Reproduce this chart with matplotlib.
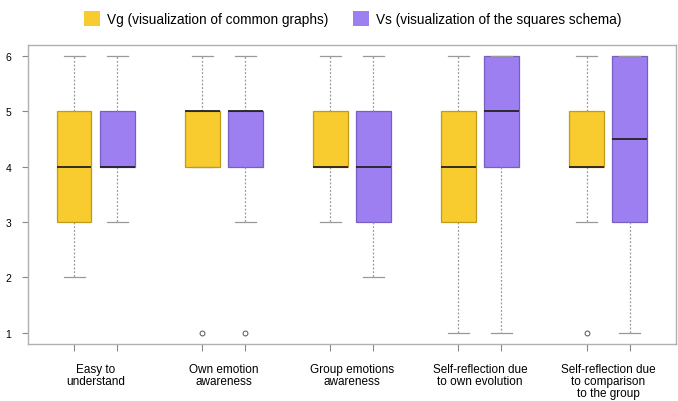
import matplotlib
import matplotlib.pyplot as plt
from matplotlib.patches import Patch

matplotlib.use("agg")
plt.rcParams["font.family"] = ["Liberation Sans", "DejaVu Sans"]

categories = ["Easy to\nunderstand", "Own emotion\nawareness", "Group emotions\nawareness",
              "Self-reflection due\nto own evolution",
              "Self-reflection due\nto comparison\nto the group"]

# five-number summaries per category (whisker low, q1, median, q3, whisker high)
vg_whislo = [2, 4, 3, 1, 3]
vg_q1 = [3, 4, 4, 3, 4]
vg_med = [4, 5, 4, 4, 4]
vg_q3 = [5, 5, 5, 5, 5]
vg_whishi = [6, 6, 6, 6, 6]
vg_fliers = [[], [1], [], [], [1]]

vs_whislo = [3, 3, 2, 1, 1]
vs_q1 = [4, 4, 3, 4, 3]
vs_med = [4, 5, 4, 5, 4.5]
vs_q3 = [5, 5, 5, 6, 6]
vs_whishi = [6, 6, 6, 6, 6]
vs_fliers = [[], [1], [], [], []]

vg_label = "Vg (visualization of common graphs)"
vs_label = "Vs (visualization of the squares schema)"
vg_color = "#F8CB2E"
vs_color = "#9D7FF2"
vg_edge = "#C09A18"
vs_edge = "#7460C0"


def make_stats(lo, q1, med, q3, hi, fliers):
    return [dict(whislo=a, q1=b, med=c, q3=d, whishi=e, fliers=f)
            for a, b, c, d, e, f in zip(lo, q1, med, q3, hi, fliers)]


fig = plt.figure(figsize=(6.78, 4.02), dpi=100)
ax = fig.add_axes([0.041, 0.142, 0.956, 0.744])

centers = list(range(1, len(categories) + 1))
offset = 0.168
width = 0.27

for stats, shift, face, edge in [
    (make_stats(vg_whislo, vg_q1, vg_med, vg_q3, vg_whishi, vg_fliers), -offset, vg_color, vg_edge),
    (make_stats(vs_whislo, vs_q1, vs_med, vs_q3, vs_whishi, vs_fliers), offset, vs_color, vs_edge),
]:
    ax.bxp(stats, positions=[c + shift for c in centers], widths=width,
           patch_artist=True, manage_ticks=False,
           boxprops=dict(facecolor=face, edgecolor=edge, linewidth=0.9),
           medianprops=dict(color="#222222", linewidth=1.3),
           whiskerprops=dict(color="#999999", linestyle=(0, (1.5, 1.5)), linewidth=0.9),
           capprops=dict(color="#999999", linewidth=0.9),
           capwidths=width * 0.6,
           flierprops=dict(marker="o", markersize=3.5, markerfacecolor="none",
                           markeredgecolor="#555555", markeredgewidth=0.7))

ax.set_xlim(0.47, 5.53)
ax.set_ylim(0.8, 6.2)
ax.set_yticks([1, 2, 3, 4, 5, 6])
ax.tick_params(axis="y", labelsize=7.5, length=4, color="#888888", pad=8)

tick_pos = []
for c in centers:
    tick_pos += [c - offset, c + offset]
ax.set_xticks(tick_pos)
ax.set_xticklabels([""] * len(tick_pos))
ax.tick_params(axis="x", length=5, color="#888888")
for c, name in zip(centers, categories):
    ax.annotate(name, xy=(c, 0), xycoords=("data", "axes fraction"),
                xytext=(0, -13.5), textcoords="offset points",
                ha="center", va="top", fontsize=8.5, linespacing=1.0)

for s in ax.spines.values():
    s.set_color("#B0B0B0")
    s.set_linewidth(1.0)

handles = [Patch(facecolor=vg_color, edgecolor="none", label=vg_label),
           Patch(facecolor=vs_color, edgecolor="none", label=vs_label)]
fig.legend(handles=handles, loc="upper center", bbox_to_anchor=(0.52, 1.0), ncol=2,
           frameon=False, fontsize=9.8, handlelength=1.2, handleheight=1.3,
           handletextpad=0.5, columnspacing=1.8)

fig.savefig("out.png", dpi=100)
